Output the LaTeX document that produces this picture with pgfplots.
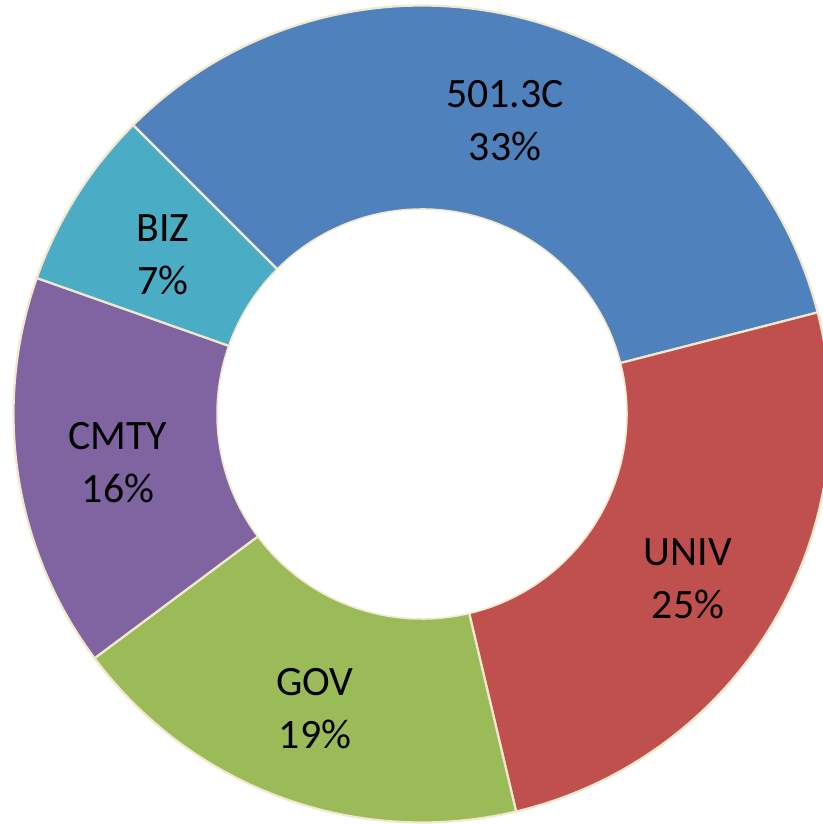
\documentclass[border=0pt]{standalone}
\usepackage{pgfplots}
\usepackage{pgfplotstable}
\pgfplotsset{compat=1.18}
\usepackage{fontspec}
\setmainfont{Carlito}
\definecolor{cblue}{HTML}{4F81BD}
\definecolor{cred}{HTML}{C0504D}
\definecolor{cgreen}{HTML}{9BBB59}
\definecolor{cpurple}{HTML}{8064A2}
\definecolor{caqua}{HTML}{4BACC6}
\definecolor{cream}{RGB}{242,232,205}
\pgfplotstableread{
label value
501.3C 33.5
UNIV 25.3
GOV 18.5
CMTY 15.6
BIZ 7.1
}\datatable
\newcommand\getval[2]{\pgfplotstablegetelem{#1}{value}\of\datatable\edef#2{\pgfplotsretval}}
\getval{0}{\vA}\getval{1}{\vB}\getval{2}{\vC}\getval{3}{\vD}\getval{4}{\vE}
\pgfmathsetmacro\aZ{135}
\pgfmathsetmacro\aA{\aZ-3.6*\vA}
\pgfmathsetmacro\aB{\aA-3.6*\vB}
\pgfmathsetmacro\aC{\aB-3.6*\vC}
\pgfmathsetmacro\aD{\aC-3.6*\vD}
\pgfmathsetmacro\aE{\aD-3.6*\vE}
\begin{document}
\begin{tikzpicture}
\begin{axis}[
  scale only axis, width=411.5pt, height=412pt,
  xmin=0, xmax=823, ymin=0, ymax=824,
  hide axis, clip=true,
]
\path (rel axis cs:0,0) rectangle (rel axis cs:1,1);
\addplot[fill=cblue, draw=cream, line width=1.1pt, domain=\aA:\aZ, samples=80, variable=\t]
  ({422+408.5*cos(\t)},{410+408.5*sin(\t)}) -- (422,410) -- cycle;
\addplot[fill=cred, draw=cream, line width=1.1pt, domain=\aB:\aA, samples=70, variable=\t]
  ({422+408.5*cos(\t)},{410+408.5*sin(\t)}) -- (422,410) -- cycle;
\addplot[fill=cgreen, draw=cream, line width=1.1pt, domain=\aC:\aB, samples=60, variable=\t]
  ({422+408.5*cos(\t)},{410+408.5*sin(\t)}) -- (422,410) -- cycle;
\addplot[fill=cpurple, draw=cream, line width=1.1pt, domain=\aD:\aC, samples=50, variable=\t]
  ({422+408.5*cos(\t)},{410+408.5*sin(\t)}) -- (422,410) -- cycle;
\addplot[fill=caqua, draw=cream, line width=1.1pt, domain=\aE:\aD, samples=30, variable=\t]
  ({422+408.5*cos(\t)},{410+408.5*sin(\t)}) -- (422,410) -- cycle;
\addplot[fill=white, draw=cream, line width=0.8pt, domain=0:360, samples=150, variable=\t]
  ({422+205*cos(\t)},{410+205*sin(\t)}) -- cycle;
\begin{scope}[every node/.style={align=center, font=\fontsize{20.9}{26.5}\selectfont, text=black}]
\node at (axis cs:505,703) {501.3C\\33\%};
\node at (axis cs:688,245) {UNIV\\25\%};
\node at (axis cs:315,115) {GOV\\19\%};
\node at (axis cs:118,361) {CMTY\\16\%};
\node at (axis cs:163,569) {BIZ\\7\%};
\end{scope}
\end{axis}
\end{tikzpicture}
\end{document}
